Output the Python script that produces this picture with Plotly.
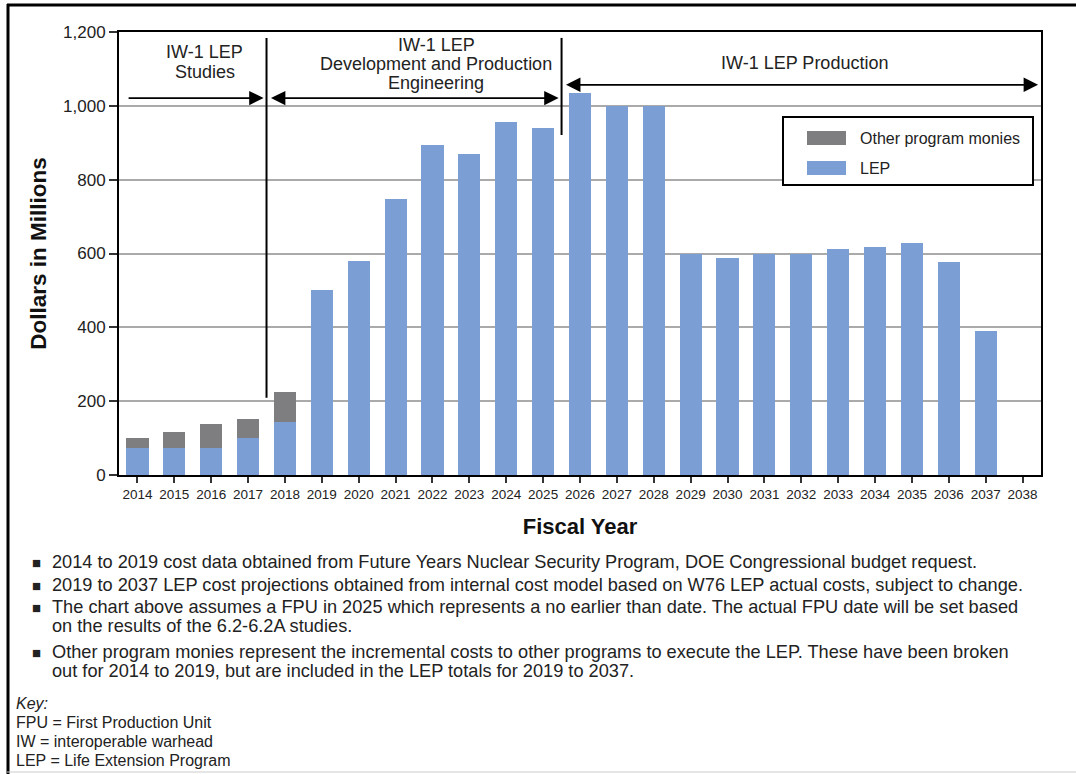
import plotly.graph_objects as go

# ---------------- data ----------------
years = list(range(2014, 2039))
lep = [73, 73, 73, 100, 144, 500, 580, 748, 895, 870, 955, 940, 1035, 1000, 1000,
       600, 588, 600, 600, 612, 617, 628, 578, 390, 0]
other = [27, 44, 65, 52, 81, 0, 0, 0, 0, 0, 0, 0, 0, 0, 0,
         0, 0, 0, 0, 0, 0, 0, 0, 0, 0]
y_ticks = [0, 200, 400, 600, 800, 1000, 1200]
y_ticklabels = ["0", "200", "400", "600", "800", "1,000", "1,200"]

studies_label = ["IW-1 LEP", "Studies"]
dev_label = ["IW-1 LEP", "Development and Production", "Engineering"]
prod_label = "IW-1 LEP Production"
legend_labels = ["Other program monies", "LEP"]
notes = [
    ["2014 to 2019 cost data obtained from Future Years Nuclear Security Program, DOE Congressional budget request."],
    ["2019 to 2037 LEP cost projections obtained from internal cost model based on W76 LEP actual costs, subject to change."],
    ["The chart above assumes a FPU in 2025 which represents a no earlier than date. The actual FPU date will be set based",
     "on the results of the 6.2-6.2A studies."],
    ["Other program monies represent the incremental costs to other programs to execute the LEP. These have been broken",
     "out for 2014 to 2019, but are included in the LEP totals for 2019 to 2037."],
]
key_title = "Key:"
key_lines = ["FPU = First Production Unit", "IW = interoperable warhead", "LEP = Life Extension Program"]

# ---------------- style ----------------
BLUE = "#7B9FD5"
GRAY = "#7E7E80"
TXT = "#222222"
FONT = "Liberation Sans, Arial, sans-serif"
W, H = 1076, 774
X0, X1, Y0, Y1 = 119, 1041, 32, 475  # plot area in pixels


def px(xp):
    return (xp - X0) / (X1 - X0)


def py(yp):
    return (Y1 - yp) / (Y1 - Y0)


fig = go.Figure()
fig.add_trace(go.Bar(x=years, y=lep, name=legend_labels[1], marker_color=BLUE,
                     marker_line_width=0, showlegend=False))
fig.add_trace(go.Bar(x=years, y=other, name=legend_labels[0], marker_color=GRAY,
                     marker_line_width=0, showlegend=False))

shapes = []
annotations = []


def label(xp, yp, text, size, anchor="center", italic=False, xref="paper"):
    annotations.append(dict(x=xp if xref != "paper" else px(xp), y=py(yp), xref=xref, yref="paper",
                            text=f"<i>{text}</i>" if italic else text, showarrow=False,
                            xanchor=anchor, yanchor="middle", borderpad=0,
                            font=dict(size=size, color=TXT, family=FONT)))


# phase divider lines
shapes.append(dict(type="line", xref="x", yref="y", x0=2017.5, x1=2017.5, y0=209, y1=1184,
                   line=dict(color="black", width=2)))
shapes.append(dict(type="line", xref="x", yref="y", x0=2025.5, x1=2025.5, y0=921, y1=1184,
                   line=dict(color="black", width=2)))


# arrows
def arrow(xa, xb, yv, both=False):
    annotations.append(dict(x=xb, y=yv, ax=xa, ay=yv, xref="x", yref="y", axref="x", ayref="y",
                            text="", showarrow=True, arrowhead=2, arrowsize=1.6, arrowwidth=1.8,
                            arrowcolor="black", standoff=0, startstandoff=0,
                            arrowside="end+start" if both else "end", startarrowhead=2,
                            startarrowsize=1.6))


arrow(2013.72, 2017.42, 1021)
arrow(2017.58, 2025.42, 1021, both=True)
arrow(2025.58, 2038.42, 1057, both=True)

# phase labels
for t, yv in zip(studies_label, [52, 72]):
    label(2015.83, yv, t, 18, xref="x")
for t, yv in zip(dev_label, [45, 64, 83]):
    label(2022.1, yv, t, 18, xref="x")
label(2032.1, 63, prod_label, 18, xref="x")

# manual legend
shapes.append(dict(type="rect", xref="paper", yref="paper", x0=px(783), x1=px(1033),
                   y0=py(185), y1=py(117), line=dict(color="black", width=2),
                   fillcolor="white", layer="above"))
shapes.append(dict(type="rect", xref="paper", yref="paper", x0=px(807), x1=px(846),
                   y0=py(145), y1=py(131), line=dict(width=0), fillcolor=GRAY, layer="above"))
shapes.append(dict(type="rect", xref="paper", yref="paper", x0=px(807), x1=px(846),
                   y0=py(175), y1=py(161), line=dict(width=0), fillcolor=BLUE, layer="above"))
label(859, 138, legend_labels[0], 16, anchor="left")
label(859, 168, legend_labels[1], 16, anchor="left")

# notes
note_y = [[562], [585], [607, 626], [652, 671]]
for lines, ys in zip(notes, note_y):
    label(31, ys[0], "■", 15, anchor="left")
    for t, yv in zip(lines, ys):
        label(51, yv, t, 18.2, anchor="left")

label(15, 703, key_title, 16, anchor="left", italic=True)
for t, yv in zip(key_lines, [722, 741, 760]):
    label(15, yv, t, 16, anchor="left")

# outer frame
shapes.append(dict(type="line", xref="paper", yref="paper", x0=px(7), x1=px(1076),
                   y0=py(5), y1=py(5), line=dict(color="black", width=3)))
shapes.append(dict(type="line", xref="paper", yref="paper", x0=px(8), x1=px(8),
                   y0=py(4), y1=py(774), line=dict(color="black", width=3)))
shapes.append(dict(type="line", xref="paper", yref="paper", x0=px(7), x1=px(1076),
                   y0=py(772), y1=py(772), line=dict(color="#cccccc", width=1)))

fig.update_layout(
    width=W, height=H,
    margin=dict(l=X0, r=W - X1, t=Y0, b=H - Y1),
    paper_bgcolor="white", plot_bgcolor="white",
    barmode="stack", bargap=0.4,
    font=dict(family=FONT, color=TXT),
    shapes=shapes, annotations=annotations,
    showlegend=False,
)
fig.update_xaxes(
    range=[2013.5, 2038.5], tickmode="array", tickvals=years, ticktext=[str(y) for y in years],
    ticks="outside", ticklen=6, tickwidth=1.5, tickcolor="#333",
    tickfont=dict(size=13.5, color=TXT, family=FONT),
    showline=True, linecolor="black", linewidth=2, mirror=True, showgrid=False,
    title=dict(text="<b>Fiscal Year</b>", font=dict(size=22, color="#111", family=FONT), standoff=17),
)
fig.update_yaxes(
    range=[0, 1200], tickmode="array", tickvals=y_ticks, ticktext=y_ticklabels,
    ticks="outside", ticklen=8, tickwidth=1.5, tickcolor="#333",
    tickfont=dict(size=17, color=TXT, family=FONT),
    showline=True, linecolor="black", linewidth=2, mirror=True,
    showgrid=True, gridcolor="#AAAAAA", gridwidth=1.5, zeroline=False,
    title=dict(text="<b>Dollars in Millions</b>", font=dict(size=22.5, color="#111", family=FONT), standoff=10),
)

fig.write_html("out.html", config={"displayModeBar": False},
               post_script="document.body.style.margin='0';")
